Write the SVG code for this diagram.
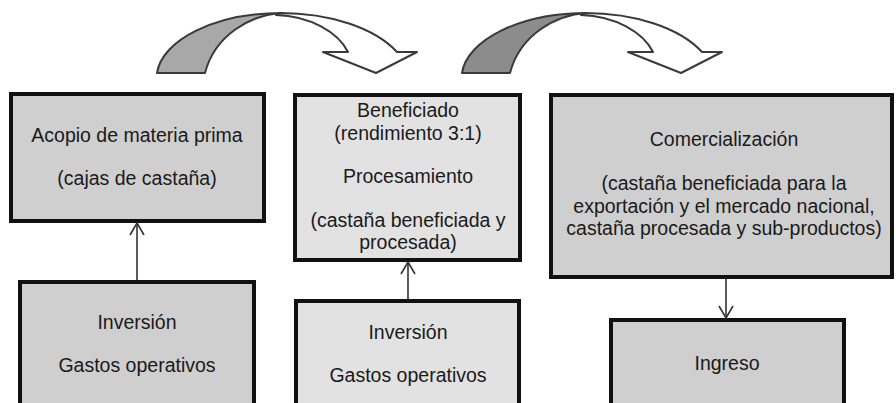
<svg xmlns="http://www.w3.org/2000/svg" width="896" height="403" viewBox="0 0 896 403">
<defs>
<style>
.box{stroke:#111;stroke-width:4}
.dark{fill:#cfcfcf}
.light{fill:#e2e2e2}
text{font-family:"Liberation Sans",Arial,sans-serif;font-size:19.5px;fill:#1a1a1a;text-anchor:middle}
.conn{stroke:#333;stroke-width:1.6;fill:none}
.bend{stroke:#3a3a3a;stroke-width:2;stroke-linejoin:round}
</style>
<marker id="open" viewBox="0 0 14 16" refX="13" refY="8" markerWidth="14" markerHeight="16" markerUnits="userSpaceOnUse" orient="auto">
<polyline points="1,1 13,8 1,15" fill="none" stroke="#333" stroke-width="1.6"/>
</marker>
<g id="curvedArrow">
<path class="bend" fill="#fff" d="M280,13 C330,13 375,28 397,52 L417,52 L376,73 L323,52 L348,52 C338,32 310,16 276,15 Z"/>
</g>
</defs>
<rect width="896" height="403" fill="#fff"/>

<g id="bend1">
<use href="#curvedArrow"/>
<path class="bend" fill="#a8a8a8" d="M157,73 C162,40 215,13 282,13 C250,15 215,35 205,73 Z"/>
</g>
<g id="bend2">
<use href="#curvedArrow" transform="translate(305,0)"/>
<path class="bend" fill="#8c8c8c" d="M462,73 C467,40 520,13 587,13 C555,15 520,35 510,73 Z"/>
</g>

<g id="acopio">
<rect class="box dark" x="11" y="94" width="253" height="127"/>
<text x="137" y="142">Acopio de materia prima</text>
<text x="137" y="185">(cajas de castaña)</text>
</g>
<g id="beneficiado">
<rect class="box light" x="295" y="95" width="225" height="165"/>
<text x="408" y="117">Beneficiado</text>
<text x="408" y="140">(rendimiento 3:1)</text>
<text x="408" y="183">Procesamiento</text>
<text x="408" y="227">(castaña beneficiada y</text>
<text x="408" y="249">procesada)</text>
</g>
<g id="comercializacion">
<rect class="box dark" x="551" y="95" width="341" height="182"/>
<text x="724" y="146">Comercialización</text>
<text x="724" y="190">(castaña beneficiada para la</text>
<text x="724" y="213">exportación y el mercado nacional,</text>
<text x="724" y="235">castaña procesada y sub-productos)</text>
</g>
<g id="inversion1">
<rect class="box dark" x="20" y="282" width="234" height="140"/>
<text x="137" y="329">Inversión</text>
<text x="137" y="372">Gastos operativos</text>
</g>
<g id="inversion2">
<rect class="box light" x="296" y="301" width="223" height="140"/>
<text x="408" y="339">Inversión</text>
<text x="408" y="382">Gastos operativos</text>
</g>
<g id="ingreso">
<rect class="box dark" x="611" y="320" width="233" height="120"/>
<text x="727" y="370">Ingreso</text>
</g>

<g id="connectors">
<line class="conn" x1="137" y1="280" x2="137" y2="223" marker-end="url(#open)"/>
<line class="conn" x1="408" y1="299" x2="408" y2="262" marker-end="url(#open)"/>
<line class="conn" x1="726" y1="279" x2="726" y2="318" marker-end="url(#open)"/>
</g>
</svg>
